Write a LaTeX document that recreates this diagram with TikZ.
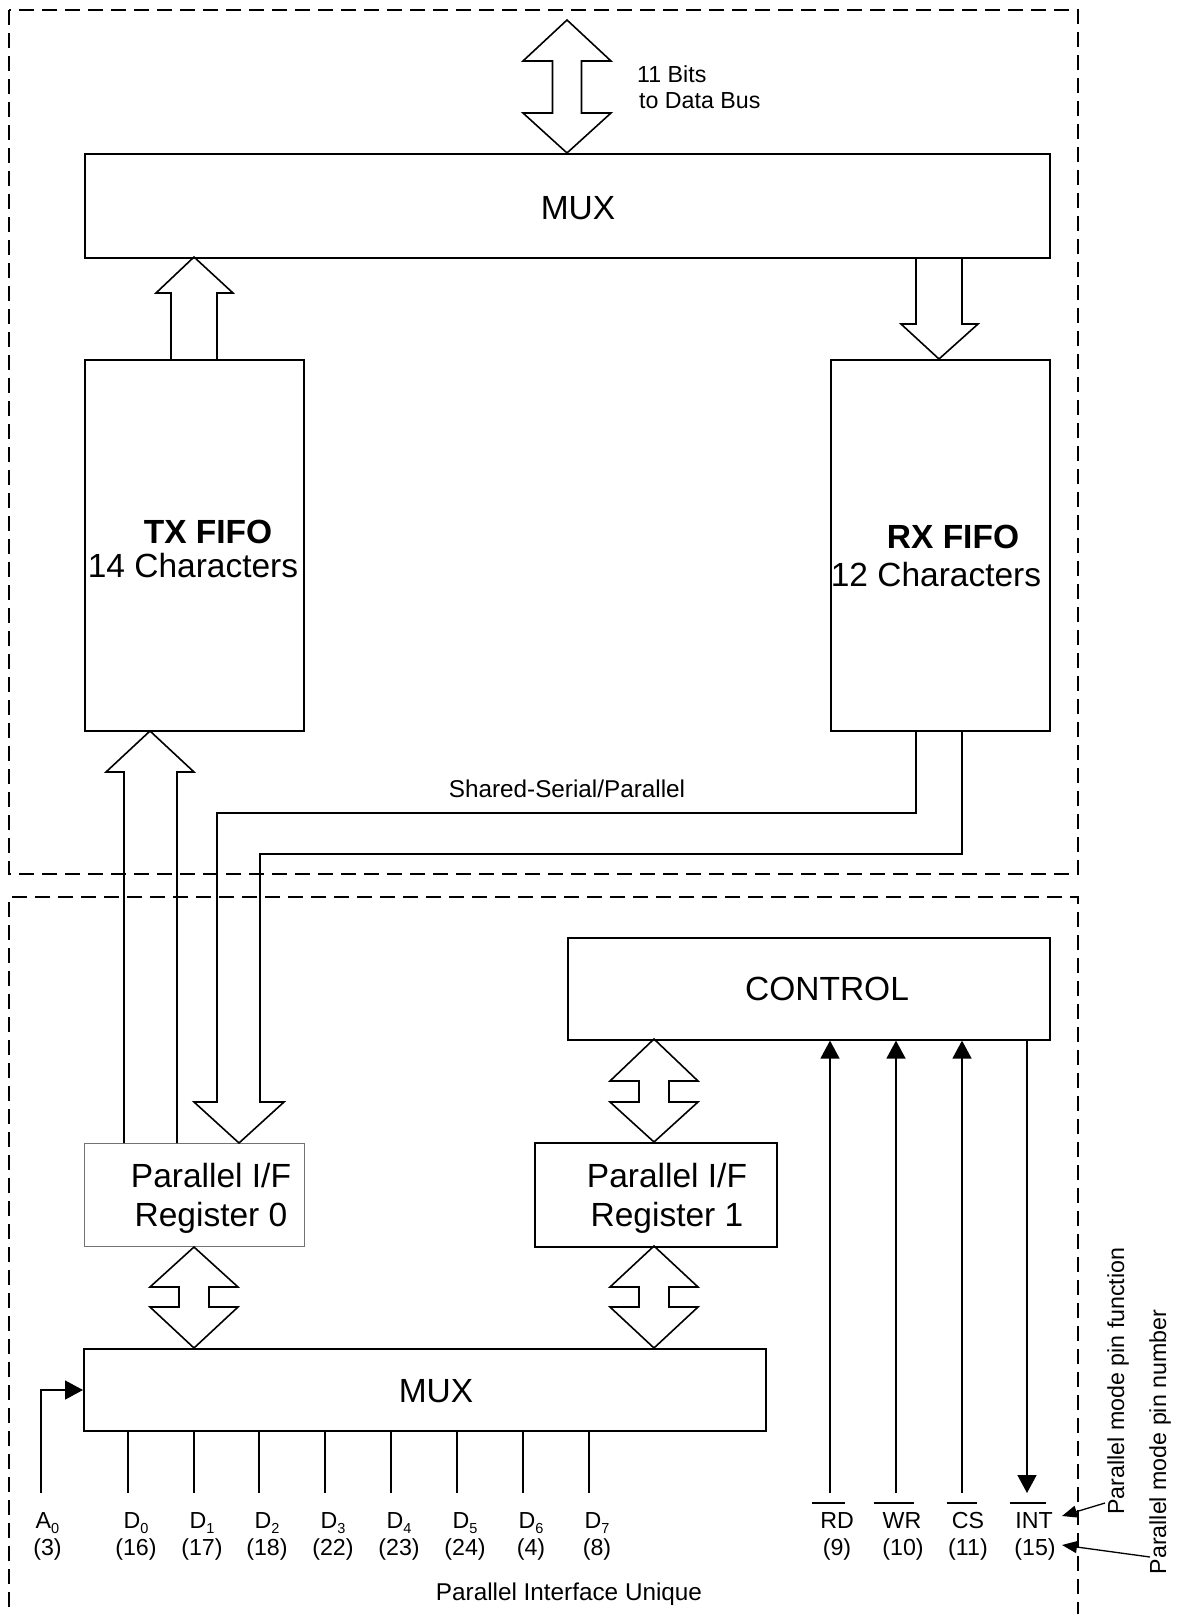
\documentclass[tikz,border=0pt]{standalone}
\usepackage{fontspec}
\setmainfont{Liberation Sans}
\usetikzlibrary{arrows.meta,calc}
\newcommand\bigsz{\fontsize{33.5}{39}\selectfont}
\newcommand\smsz{\fontsize{23.2}{26}\selectfont}
\newcommand\midsz{\fontsize{24.3}{27}\selectfont}
\newcommand\subsc[1]{\raisebox{-5pt}{\fontsize{14.5}{14.5}\selectfont #1}}
\newcommand\vdblarrow[7]{%
  \draw[blk] (#1,#2) -- ({#1+#6},#3) -- ({#1+#7},#3) -- ({#1+#7},#4) -- ({#1+#6},#4) -- (#1,#5)
    -- ({#1-#6},#4) -- ({#1-#7},#4) -- ({#1-#7},#3) -- ({#1-#6},#3) -- cycle;}
\begin{document}
\begin{tikzpicture}[x=1pt,y=-1pt,
  box/.style={draw, line width=1.6pt, inner sep=0, anchor=north west},
  greybox/.style={draw=black!55, line width=1.2pt, inner sep=0, anchor=north west},
  dashbox/.style={draw, dash pattern=on 15pt off 8pt, line width=1.6pt},
  blk/.style={draw, line width=1.6pt, line join=miter},
  wire/.style={draw, line width=1.6pt},
  lbl/.style={inner sep=0, anchor=base, font=\smsz},
  midlbl/.style={inner sep=0, anchor=base, font=\midsz},
  big/.style={inner sep=0, anchor=base, font=\bigsz},
  pin/.style={line width=1.6pt, -{Triangle[length=18pt,width=19pt]}},
  note/.style={line width=1.3pt, -{Triangle[length=15pt,width=12pt]}}]
\useasboundingbox (0,0) rectangle (1179,1614);

% dashed regions
\draw[dashbox] (9,10) rectangle (1078,874);
\draw[dashbox] (9,1630) -- (9,897) -- (1078,897) -- (1078,1630);

% boxes
\node[box, minimum width=965pt, minimum height=104pt] (muxt) at (84,153) {};
\node[box, minimum width=219pt, minimum height=371pt] (tx) at (84,359) {};
\node[box, minimum width=219pt, minimum height=371pt] (rx) at (830,359) {};
\node[box, minimum width=482pt, minimum height=102pt] (ctrl) at (567,937) {};
\node[greybox, minimum width=220pt, minimum height=103pt] (reg0) at (84,1143) {};
\node[box, minimum width=242pt, minimum height=104pt] (reg1) at (534,1142) {};
\node[box, minimum width=682pt, minimum height=82pt] (muxb) at (83,1348) {};

% box texts
\node[big] (muxttxt) at (578,219) {MUX};
\node[big, font=\bigsz\bfseries] (txa) at (208,543) {TX FIFO};
\node[big] (txb) at (193,577) {14 Characters};
\node[big, font=\bigsz\bfseries] (rxa) at (953,548) {RX FIFO};
\node[big] (rxb) at (936,586) {12 Characters};
\node[big] (ctrltxt) at (827,1000) {CONTROL};
\node[big] (reg0a) at (211,1187) {Parallel I/F};
\node[big] (reg0b) at (211,1226) {Register 0};
\node[big] (reg1a) at (667,1187) {Parallel I/F};
\node[big] (reg1b) at (667,1226) {Register 1};
\node[big] (muxbtxt) at (436,1402) {MUX};

% free labels
\node[lbl, anchor=base west] (bits1) at (637,82) {11 Bits};
\node[lbl, anchor=base west] (bits2) at (639,108) {to Data Bus};
\node[midlbl] (shared) at (567,797) {Shared-Serial/Parallel};
\node[midlbl] (unique) at (569,1600) {Parallel Interface Unique};

% block arrows
\vdblarrow{567}{20}{61}{113}{153}{44}{14.5}
\draw[blk] (171,359) -- (171,293) -- (156,293) -- (194,257) -- (233,293) -- (217,293) -- (217,359);
\draw[blk] (916,257) -- (916,324) -- (901,324) -- (939,359) -- (978,324) -- (962,324) -- (962,257);
\draw[blk] (124,1143) -- (124,772) -- (106,772) -- (150,731) -- (194,772) -- (177,772) -- (177,1143);
\draw[blk] (916,730) -- (916,813) -- (217,813) -- (217,1102) -- (194,1102) -- (239,1143)
  -- (284,1102) -- (260,1102) -- (260,854) -- (962,854) -- (962,730);
\vdblarrow{654}{1039}{1081}{1102}{1142}{44}{15}
\vdblarrow{654}{1246}{1287}{1307}{1348}{44}{15}
\vdblarrow{194}{1247}{1287}{1307}{1348}{44}{15}

% A0 input
\coordinate (a0end) at (41,1493);
\draw[pin] (a0end) |- (muxb.west |- 0,1390);

% data pins
\foreach \n/\x/\num in {0/128/16,1/194/17,2/259/18,3/325/22,4/391/23,5/457/24,6/523/4,7/589/8}{
  \coordinate (dend\n) at (\x,1493);
  \draw[wire] (muxb.south -| dend\n) -- (dend\n);
  \node[lbl] (dl\n) at (\x+8,1528) {D\subsc{\n}};
  \node[lbl] (dn\n) at (\x+8,1555) {(\num)};
}
\node[lbl] (al) at (47.5,1528) {A\subsc{0}};
\node[lbl] (an) at (47.5,1555) {(3)};

% control pins
\foreach \nm/\x in {rd/830,wr/896,cs/962}{
  \coordinate (\nm end) at (\x,1493);
  \draw[pin] (\nm end) -- (ctrl.south -| \nm end);
}
\coordinate (intend) at (1027,1493);
\draw[pin] (ctrl.south -| intend) -- (intend);

\node[lbl] (rdl) at (837,1528) {RD};
\node[lbl] (wrl) at (902,1528) {WR};
\node[lbl] (csl) at (968,1528) {CS};
\node[lbl] (intl) at (1034,1528) {INT};
\node[lbl] (rdn) at (837,1555) {(9)};
\node[lbl] (wrn) at (903,1555) {(10)};
\node[lbl] (csn) at (968,1555) {(11)};
\node[lbl] (intn) at (1035,1555) {(15)};
\foreach \nm/\l/\r in {rdl/8/9,wrl/8/8,csl/5/7,intl/5/7}{
  \draw[line width=1.3pt] ([xshift=-\l pt]\nm.west |- 0,1503) -- ([xshift=-\r pt]\nm.east |- 0,1503);
}

% side notes
\node[lbl, rotate=90, anchor=center] (pfunc) at (1118,1381) {Parallel mode pin function};
\node[lbl, rotate=90, anchor=center] (pnum) at (1160,1442) {Parallel mode pin number};
\coordinate (fstart) at (1105,1503);
\coordinate (fend) at (1062,1516);
\coordinate (nstart) at (1150,1557);
\coordinate (nend) at (1062,1545);
\draw[note] (fstart) -- (fend);
\draw[note] (nstart) -- (nend);
\end{tikzpicture}
\end{document}
